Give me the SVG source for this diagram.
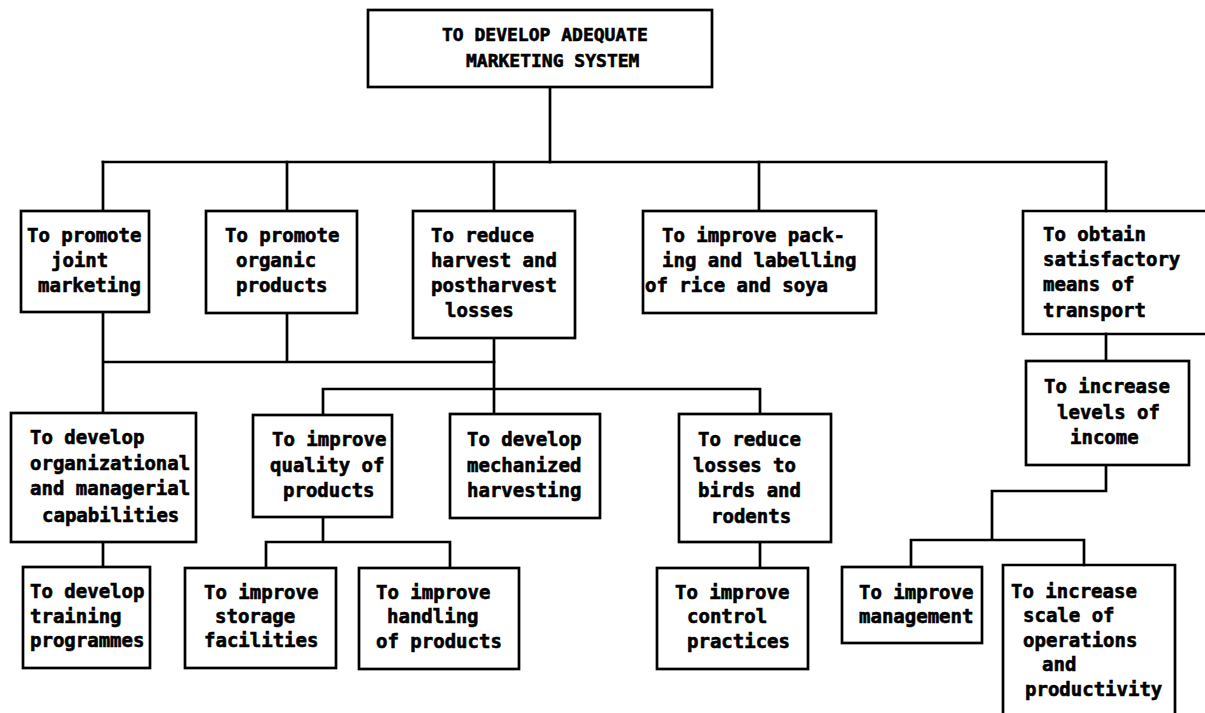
<svg xmlns="http://www.w3.org/2000/svg" width="1205" height="713" viewBox="0 0 1205 713">
  <style>
    .box { fill: #fff; stroke: #000; stroke-width: 2.7; }
    .open { fill: none; stroke: #000; stroke-width: 2.7; }
    .link { fill: none; stroke: #000; stroke-width: 2.7; stroke-linecap: square; }
    text { font-family: "DejaVu Sans Mono", "Liberation Mono", monospace; font-weight: bold; font-size: 19px; fill: #000; stroke: #000; stroke-width: 0.6; }
    .cap { font-size: 18px; }
  </style>
  <rect width="1205" height="713" fill="#fff"/>

  <!-- connectors -->
  <g id="connectors" class="link">
    <path d="M550,87 V162"/>
    <path d="M103,162 H1106"/>
    <path d="M103,162 V211 M287,162 V211 M494,162 V211 M759,162 V211 M1106,162 V211"/>
    <path d="M103,312 V413 M287,313 V362 M103,362 H494"/>
    <path d="M494,338 V414"/>
    <path d="M323,389 H760 M323,389 V415 M760,389 V414"/>
    <path d="M103,542 V567"/>
    <path d="M323,517 V542 M266,542 H450 M266,542 V568 M450,542 V568"/>
    <path d="M760,542 V568"/>
    <path d="M1106,334 V361"/>
    <path d="M1106,465 V491 H992 V540 M911,540 H1084 M911,540 V567 M1084,540 V565"/>
  </g>

  <!-- goal -->
  <g id="goal">
    <rect class="box" x="368" y="10" width="344" height="77"/>
    <text class="cap" x="442" y="41">TO DEVELOP ADEQUATE</text>
    <text class="cap" x="466" y="67">MARKETING SYSTEM</text>
  </g>

  <!-- second level -->
  <g id="joint-marketing">
    <rect class="box" x="21" y="211" width="128" height="101"/>
    <text x="27" y="242">To promote</text>
    <text x="51" y="267">joint</text>
    <text x="38" y="292">marketing</text>
  </g>
  <g id="organic-products">
    <rect class="box" x="206" y="211" width="151" height="102"/>
    <text x="225" y="242">To promote</text>
    <text x="236" y="267">organic</text>
    <text x="236" y="292">products</text>
  </g>
  <g id="harvest-losses">
    <rect class="box" x="413" y="211" width="162" height="127"/>
    <text x="431" y="242">To reduce</text>
    <text x="431" y="267">harvest and</text>
    <text x="431" y="292">postharvest</text>
    <text x="445" y="317">losses</text>
  </g>
  <g id="packing-labelling">
    <rect class="box" x="643" y="211" width="233" height="102"/>
    <text x="662" y="242">To improve pack-</text>
    <text x="662" y="267">ing and labelling</text>
    <text x="645" y="292">of rice and soya</text>
  </g>
  <g id="transport">
    <path class="open" d="M1210,211 H1023 V334 H1210"/>
    <text x="1043" y="241">To obtain</text>
    <text x="1043" y="266">satisfactory</text>
    <text x="1043" y="291">means of</text>
    <text x="1043" y="317">transport</text>
  </g>

  <!-- third level -->
  <g id="organizational">
    <rect class="box" x="11" y="413" width="185" height="129"/>
    <text x="30" y="444">To develop</text>
    <text x="30" y="470">organizational</text>
    <text x="30" y="495">and managerial</text>
    <text x="42" y="522">capabilities</text>
  </g>
  <g id="quality">
    <rect class="box" x="253" y="415" width="139" height="102"/>
    <text x="272" y="446">To improve</text>
    <text x="270" y="472">quality of</text>
    <text x="283" y="497">products</text>
  </g>
  <g id="mechanized">
    <rect class="box" x="450" y="414" width="150" height="104"/>
    <text x="467" y="446">To develop</text>
    <text x="467" y="472">mechanized</text>
    <text x="467" y="497">harvesting</text>
  </g>
  <g id="birds-rodents">
    <rect class="box" x="679" y="414" width="152" height="128"/>
    <text x="698" y="446">To reduce</text>
    <text x="693" y="472">losses to</text>
    <text x="698" y="497">birds and</text>
    <text x="711" y="523">rodents</text>
  </g>
  <g id="income">
    <rect class="box" x="1026" y="361" width="163" height="104"/>
    <text x="1044" y="393">To increase</text>
    <text x="1057" y="419">levels of</text>
    <text x="1070" y="444">income</text>
  </g>

  <!-- fourth level -->
  <g id="training">
    <rect class="box" x="23" y="567" width="127" height="101"/>
    <text x="30" y="598">To develop</text>
    <text x="30" y="623">training</text>
    <text x="30" y="647">programmes</text>
  </g>
  <g id="storage">
    <rect class="box" x="185" y="568" width="151" height="100"/>
    <text x="204" y="599">To improve</text>
    <text x="215" y="623">storage</text>
    <text x="204" y="647">facilities</text>
  </g>
  <g id="handling">
    <rect class="box" x="359" y="568" width="160" height="101"/>
    <text x="376" y="599">To improve</text>
    <text x="387" y="623">handling</text>
    <text x="376" y="648">of products</text>
  </g>
  <g id="control">
    <rect class="box" x="657" y="568" width="151" height="101"/>
    <text x="675" y="599">To improve</text>
    <text x="687" y="623">control</text>
    <text x="687" y="648">practices</text>
  </g>
  <g id="management">
    <rect class="box" x="842" y="567" width="140" height="76"/>
    <text x="859" y="599">To improve</text>
    <text x="859" y="623">management</text>
  </g>
  <g id="scale">
    <path class="open" d="M1003,716 V565 H1175 V716"/>
    <text x="1011" y="598">To increase</text>
    <text x="1023" y="622">scale of</text>
    <text x="1023" y="647">operations</text>
    <text x="1042" y="671">and</text>
    <text x="1025" y="696">productivity</text>
  </g>
</svg>
